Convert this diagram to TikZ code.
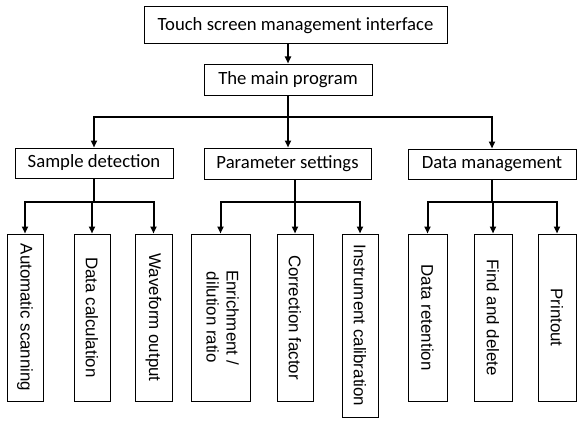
\documentclass[tikz,border=0pt]{standalone}
\usepackage{fontspec}
\newfontfamily\calfont{Carlito}
\newfontfamily\arfont{Liberation Sans}
\usetikzlibrary{arrows.meta}
\begin{document}
\begin{tikzpicture}[x=1pt,y=-1pt,
  box/.style={draw, line width=1pt, inner sep=0pt, font=\calfont\fontsize{18.7}{22}\selectfont},
  leaf/.style={draw, line width=1pt, inner sep=0pt, font=\arfont\fontsize{16.9}{20}\selectfont, minimum height=167pt},
  link/.style={line width=2pt, line cap=rect},
  arr/.style={line width=2pt, -{Triangle[width=6pt,length=7pt]}}]
\useasboundingbox (0,0) rectangle (583,428);
% upper levels
\node[box, minimum width=303pt, minimum height=37pt] (top) at (295.5,25.5) {Touch screen management interface};
\node[box, minimum width=168pt, minimum height=31pt] (main) at (288,79.5) {The main program};
\node[box, minimum width=158pt, minimum height=30pt] (sd) at (94,163) {Sample detection};
\node[box, minimum width=167pt, minimum height=31pt] (ps) at (287.5,163.5) {Parameter settings};
\node[box, minimum width=168pt, minimum height=30pt] (dm) at (492,164) {Data management};
% leaves
\node[leaf, minimum width=36pt] (c1) at (25,317.5) {\rotatebox{-90}{Automatic scanning}};
\node[leaf, minimum width=36pt] (c2) at (92,317.5) {\rotatebox{-90}{Data calculation}};
\node[leaf, minimum width=37pt] (c3) at (153.5,317.5) {\rotatebox{-90}{Waveform output}};
\node[leaf, minimum width=59pt] (c4) at (220.5,317.5) {\rotatebox{-90}{\begin{tabular}{@{}c@{}}Enrichment /\\dilution ratio\end{tabular}}};
\node[leaf, minimum width=36pt] (c5) at (295,317.5) {\rotatebox{-90}{Correction factor}};
\node[leaf, minimum width=36pt, minimum height=183pt] (c6) at (360,325.5) {\rotatebox{-90}{Instrument calibration}};
\node[leaf, minimum width=39pt] (c7) at (427.5,317.5) {\rotatebox{-90}{Data retention}};
\node[leaf, minimum width=38pt] (c8) at (493,317.5) {\rotatebox{-90}{Find and delete}};
\node[leaf, minimum width=38pt] (c9) at (557,317.5) {\rotatebox{-90}{Printout}};
% junction levels
\coordinate (j1) at (0,117);
\coordinate (j2) at (0,202);
% connectors level 1
\draw[arr] (top.south -| main.north) -- (main.north);
\draw[arr] (main.south) -- (main.south |- ps.north);
\draw[link] (sd.north |- j1) -- (dm.north |- j1);
\draw[arr] (sd.north |- j1) -- (sd.north);
\draw[arr] (dm.north |- j1) -- (dm.north);
% sample detection
\draw[link] (sd.south) -- (sd.south |- j2);
\draw[link] (c1.north |- j2) -- (c3.north |- j2);
\draw[arr] (c1.north |- j2) -- (c1.north);
\draw[arr] (c2.north |- j2) -- (c2.north);
\draw[arr] (c3.north |- j2) -- (c3.north);
% parameter settings
\draw[link] (ps.south -| c5.north) -- (c5.north |- j2);
\draw[link] (c4.north |- j2) -- (c6.north |- j2);
\draw[arr] (c4.north |- j2) -- (c4.north);
\draw[arr] (c5.north |- j2) -- (c5.north);
\draw[arr] (c6.north |- j2) -- (c6.north);
% data management
\draw[link] (dm.south) -- (dm.south |- j2);
\draw[link] (c7.north |- j2) -- (c9.north |- j2);
\draw[arr] (c7.north |- j2) -- (c7.north);
\draw[arr] (c8.north |- j2) -- (c8.north);
\draw[arr] (c9.north |- j2) -- (c9.north);
\end{tikzpicture}
\end{document}
